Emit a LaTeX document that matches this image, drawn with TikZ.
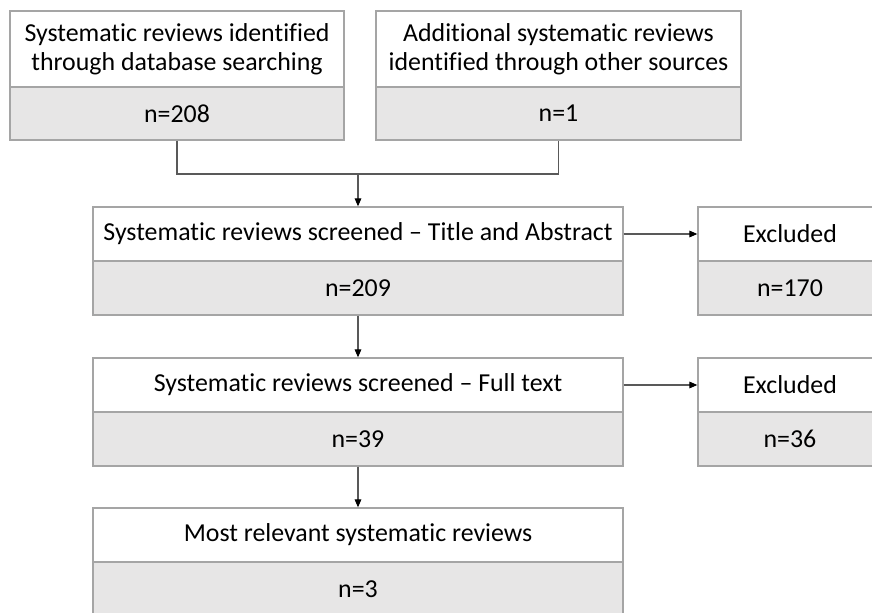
\documentclass[tikz,border=0pt]{standalone}
\usepackage{fontspec}
\setmainfont[Ligatures=NoCommon]{Carlito}
\usetikzlibrary{arrows.meta, calc}

\definecolor{boxgray}{HTML}{A5A5A5}
\definecolor{cntfill}{HTML}{E7E6E6}
\definecolor{linegray}{HTML}{595959}

\begin{document}
\begin{tikzpicture}[
  x=0.75pt, y=-0.75pt,
  every node/.style={font=\fontsize{19.4}{22}\selectfont, inner sep=0pt},
  headsty/.style={draw=boxgray, line width=1pt, fill=white, align=center},
  cntsty/.style={draw=boxgray, line width=1pt, fill=cntfill},
  linksty/.style={draw=linegray, line width=0.8pt},
  arrsty/.style={linksty, -{Triangle[length=6pt, width=5pt, color=black]}}
]
%general params
\def\hh{54*0.75pt} %row height

\clip (0,0) rectangle (872,613);
\useasboundingbox (0,0) rectangle (872,613);

% sources
  \node[headsty, minimum width=334*0.75pt, minimum height=76*0.75pt] (T1) at (177,49)
    {Systematic reviews identified\\through database searching};
  \node[cntsty, minimum width=334*0.75pt, minimum height=53*0.75pt] (N1) at (177,113.5) {n=208};

  \node[headsty, minimum width=365*0.75pt, minimum height=76*0.75pt] (T2) at (558.5,49)
    {Additional systematic reviews\\identified through other sources};
  \node[cntsty, minimum width=365*0.75pt, minimum height=53*0.75pt] (N2) at (558.5,113.5) {n=1};

% screening
  \node[headsty, minimum width=530*0.75pt, minimum height=\hh] (T3) at (358,234)
    {Systematic reviews screened -- Title and Abstract};
  \node[cntsty, minimum width=530*0.75pt, minimum height=\hh] (N3) at (358,288) {n=209};

  \node[headsty, minimum width=184*0.75pt, minimum height=\hh] (X1) at (790,234) {Excluded};
  \node[cntsty, minimum width=184*0.75pt, minimum height=\hh] (M1) at (790,288) {n=170};

  \node[headsty, minimum width=530*0.75pt, minimum height=\hh] (T4) at (358,385)
    {Systematic reviews screened -- Full text};
  \node[cntsty, minimum width=530*0.75pt, minimum height=\hh] (N4) at (358,439) {n=39};

  \node[headsty, minimum width=184*0.75pt, minimum height=\hh] (X2) at (790,385) {Excluded};
  \node[cntsty, minimum width=184*0.75pt, minimum height=\hh] (M2) at (790,439) {n=36};

% result
  \node[headsty, minimum width=530*0.75pt, minimum height=\hh] (T5) at (358,535)
    {Most relevant systematic reviews};
  \node[cntsty, minimum width=530*0.75pt, minimum height=\hh] (N5) at (358,589) {n=3};

% connectors
  \coordinate (J) at (358,174);
  \draw[linksty] (N1.south) |- (J) -| (N2.south);
  \draw[arrsty] (J) -- (T3.north);
  \draw[arrsty] (T3.east) -- (X1.west);
  \draw[arrsty] (N3.south) -- (T4.north);
  \draw[arrsty] (T4.east) -- (X2.west);
  \draw[arrsty] (N4.south) -- (T5.north);

\end{tikzpicture}
\end{document}
